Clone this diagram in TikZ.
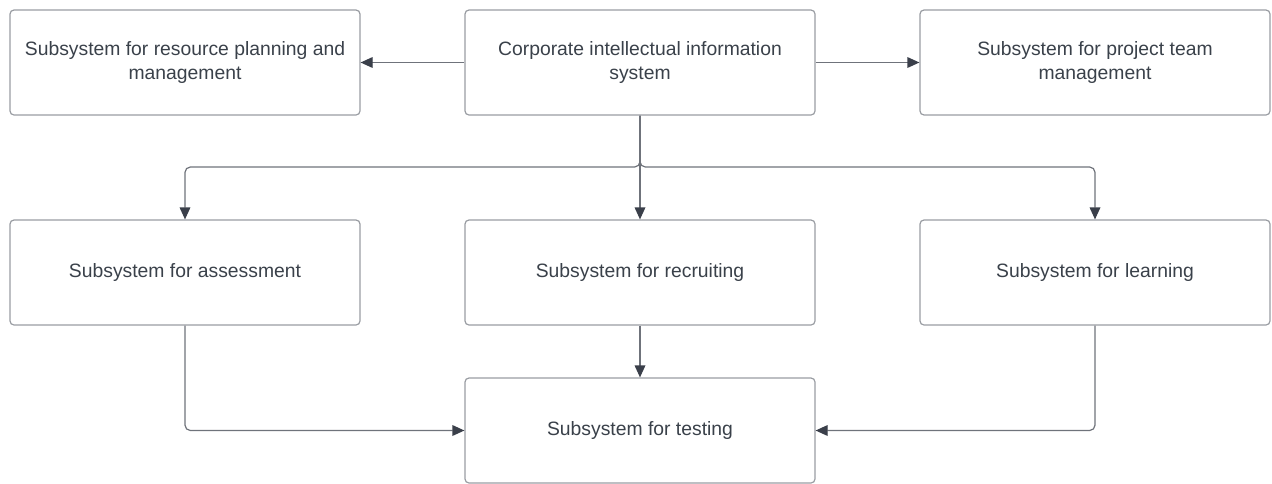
\documentclass[tikz,border=0pt]{standalone}
\usepackage{fontspec}
\setmainfont{Liberation Sans}
\usetikzlibrary{arrows.meta}
\definecolor{boxline}{HTML}{9A9DA3}
\definecolor{txt}{HTML}{3A414A}
\definecolor{wire}{HTML}{6F737B}
\definecolor{head}{HTML}{3A3F4A}
\begin{document}
\begin{tikzpicture}[x=0.75pt,y=-0.75pt,
  sysbox/.style={draw=boxline,line width=0.9pt,rounded corners=3pt,fill=white,
    minimum width=262.5pt,minimum height=78.75pt,align=center,
    text=txt,font=\fontsize{14.5pt}{17.3pt}\selectfont,inner sep=0pt},
  link/.style={draw=wire,line width=0.9pt,rounded corners=4pt,
    -{Triangle[length=9pt,width=8pt,color=head]}}]
\useasboundingbox (0,0) rectangle (1272,483);
% top row
\node[sysbox] (res)  at (185,62.5)  {Subsystem for resource planning and\\management};
\node[sysbox] (corp) at (640,62.5)  {Corporate intellectual information\\system};
\node[sysbox] (team) at (1095,62.5) {Subsystem for project team\\management};
% middle row
\node[sysbox] (assess) at (185,272.5)  {Subsystem for assessment};
\node[sysbox] (recr)   at (640,272.5)  {Subsystem for recruiting};
\node[sysbox] (learn)  at (1095,272.5) {Subsystem for learning};
% bottom
\node[sysbox] (test) at (640,430.5) {Subsystem for testing};
% connectors
\draw[link] (corp.west) -- (res.east);
\draw[link] (corp.east) -- (team.west);
\draw[link] (corp.south) |- (185,167) -- (assess.north);
\draw[link] (corp.south) -- (recr.north);
\draw[link] (corp.south) |- (1095,167) -- (learn.north);
\draw[link] (recr.south) -- (test.north);
\draw[link] (assess.south) |- (test.west);
\draw[link] (learn.south) |- (test.east);
\end{tikzpicture}
\end{document}
